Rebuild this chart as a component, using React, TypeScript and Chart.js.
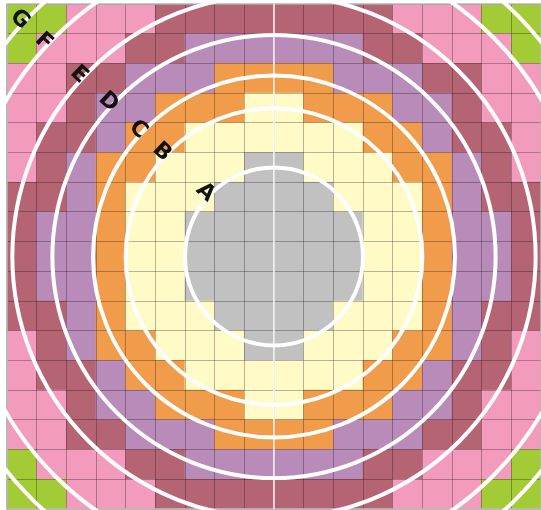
import { useEffect, useRef } from 'react';
import { Chart, registerables } from 'chart.js';

Chart.register(...registerables);

// ---- data ----
const RING_LABELS = ['A', 'B', 'C', 'D', 'E', 'F', 'G'];
// ring radii, in grid-cell units
const RING_RADII = [3.0, 5.0, 6.1, 7.47, 8.82, 10.45, 11.55];
const RING_COLORS = ['#c1c1c1', '#fffac6', '#f09c4a', '#b98bb9', '#b56474', '#f29bbd', '#a2cb36'];

const COLUMN_LABELS = ['1', '2', '3', '4', '5', '6', '7', '8', '9', '10', '11', '12', '13', '14', '15', '16', '17', '18'];

// ring letter of every cell, top row first
const GRID_ROWS = [
  'GGFFFEEEEEEEEFFFGG',
  'GFFFEEDDDDDDEEFFFG',
  'FFEEDDDCCCCDDDEEFF',
  'FFEDDCCCBBCCCDDEFF',
  'FEEDCCBBBBBBCCDEEF',
  'FEDCCBBBAABBBCCDEF',
  'EEDCBBBAAAABBBCDEE',
  'EDDCBBAAAAAABBCDDE',
  'EDDCBBAAAAAABBCDDE',
  'EDDCBBAAAAAABBCDDE',
  'EEDCBBBAAAABBBCDEE',
  'FEDCCBBBAABBBCCDEF',
  'FEEDCCBBBBBBCCDEEF',
  'FFEDDCCCBBCCCDDEFF',
  'FFEEDDDCCCCDDDEEFF',
  'GFFFEEDDDDDDEEFFFG',
  'GGFFFEEEEEEEEFFFGG',
];

const CELL_HEIGHT = 1;
// centre of the rings: between columns 9 and 10, middle of row 9
const CENTER_COLUMNS = [8, 9];
const CENTER_ROW_VALUE = 8.5;

const ringPlugin = {
  id: 'rings',
  afterDraw(chart: any) {
    const { ctx, chartArea, scales } = chart;
    const x = scales.x;
    const y = scales.y;
    const unit = x.getPixelForValue(1) - x.getPixelForValue(0);
    const cx = (x.getPixelForValue(CENTER_COLUMNS[0]) + x.getPixelForValue(CENTER_COLUMNS[1])) / 2;
    const cy = y.getPixelForValue(CENTER_ROW_VALUE);
    ctx.save();

    // outer border
    ctx.strokeStyle = '#b8b8b8';
    ctx.lineWidth = 1.5;
    ctx.strokeRect(chartArea.left, chartArea.top, chartArea.right - chartArea.left, chartArea.bottom - chartArea.top);

    // centre vertical line
    ctx.strokeStyle = 'rgba(255,255,255,0.75)';
    ctx.lineWidth = 2;
    ctx.beginPath();
    ctx.moveTo(cx, chartArea.top);
    ctx.lineTo(cx, chartArea.bottom);
    ctx.stroke();

    // rings
    ctx.strokeStyle = '#ffffff';
    ctx.lineWidth = 4;
    RING_RADII.forEach((r) => {
      ctx.beginPath();
      ctx.arc(cx, cy, r * unit, 0, Math.PI * 2);
      ctx.stroke();
    });

    // labels
    const ang = (223 * Math.PI) / 180;
    ctx.fillStyle = '#111111';
    ctx.font = 'bold 22px "DejaVu Sans", sans-serif';
    ctx.textAlign = 'center';
    ctx.textBaseline = 'middle';
    RING_LABELS.forEach((lab, i) => {
      const rr = RING_RADII[i] * unit + 5;
      const px = cx + rr * Math.cos(ang);
      const py = cy + rr * Math.sin(ang);
      ctx.save();
      ctx.translate(px, py);
      ctx.rotate((43 * Math.PI) / 180);
      ctx.fillText(lab, 0, 0);
      ctx.restore();
    });
    ctx.restore();
  },
};

export default function App() {
  const ref = useRef<HTMLCanvasElement | null>(null);

  useEffect(() => {
    if (!ref.current) return;
    const nRows = GRID_ROWS.length;
    const datasets = GRID_ROWS.map((_, i) => {
      const row = GRID_ROWS[nRows - 1 - i].split('');
      return {
        label: 'row ' + (nRows - i),
        data: row.map(() => CELL_HEIGHT),
        backgroundColor: row.map((l) => RING_COLORS[RING_LABELS.indexOf(l)]),
        borderWidth: 0,
        barPercentage: 1,
        categoryPercentage: 1,
        stack: 'grid',
      };
    });

    const chart = new Chart(ref.current, {
      type: 'bar',
      data: { labels: COLUMN_LABELS, datasets },
      options: {
        animation: false,
        responsive: false,
        devicePixelRatio: 1,
        layout: { padding: { left: 7, top: 4, right: 0, bottom: 1 } },
        plugins: { legend: { display: false }, tooltip: { enabled: false } },
        scales: {
          x: {
            type: 'category',
            stacked: true,
            offset: true,
            ticks: { display: false },
            border: { display: false },
            grid: { offset: true, color: 'rgba(0,0,0,0.28)', lineWidth: 1, drawTicks: false, z: 1 },
          },
          y: {
            type: 'linear',
            stacked: true,
            min: 0,
            max: GRID_ROWS.length * CELL_HEIGHT,
            ticks: { display: false, stepSize: 1 },
            border: { display: false },
            grid: { color: 'rgba(0,0,0,0.28)', lineWidth: 1, drawTicks: false, z: 1 },
          },
        },
      },
      plugins: [ringPlugin],
    });
    return () => chart.destroy();
  }, []);

  return (
    <div style={{ position: 'fixed', left: 0, top: 0, width: 541, height: 510, background: '#fff' }}>
      <canvas ref={ref} width={541} height={510} style={{ width: 541, height: 510, display: 'block' }} />
    </div>
  );
}
